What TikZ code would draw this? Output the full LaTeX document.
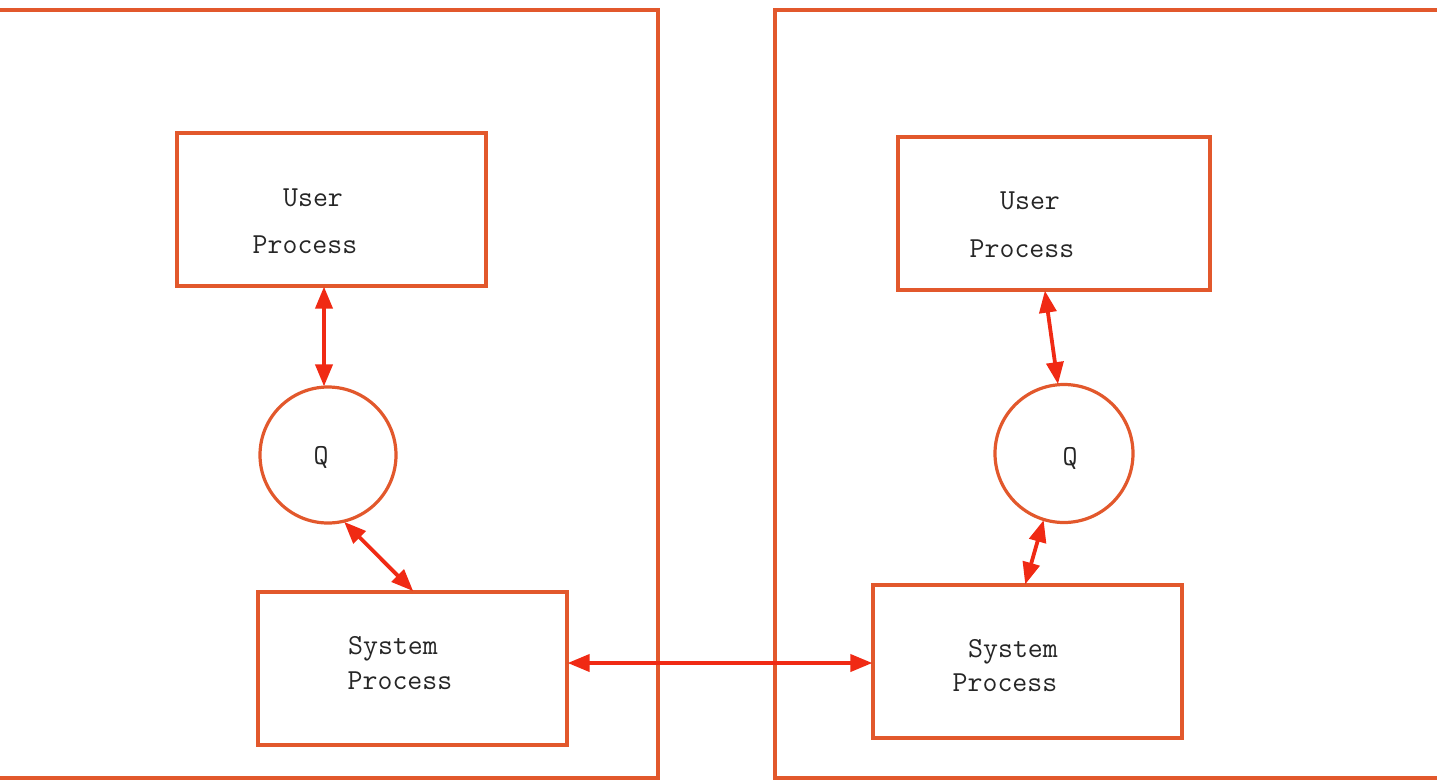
\documentclass[tikz,border=0pt]{standalone}
\usetikzlibrary{arrows.meta}
\definecolor{frameorange}{HTML}{E2582C}
\definecolor{arrowred}{HTML}{F02A14}
\tikzset{
  procbox/.style={draw=frameorange, line width=1.6pt, minimum width=154pt, minimum height=76.5pt, inner sep=0pt},
  queue/.style={draw=frameorange, line width=1.6pt, circle, minimum size=68pt, inner sep=0pt},
  label/.style={font=\ttfamily\fontsize{14.5}{16}\selectfont, text=black!85, inner sep=0pt},
  frameline/.style={draw=frameorange, line width=1.8pt},
  link/.style={draw=arrowred, line width=1.9pt, {Triangle[length=11pt,width=8.5pt]}-{Triangle[length=11pt,width=8.5pt]}, shorten <=-0.5pt, shorten >=-0.5pt}
}
\begin{document}
\begin{tikzpicture}[x=0.5pt,y=-0.5pt]
\useasboundingbox (0,0) rectangle (1437,783);

% host boundaries
\draw[frameline] (0,10) -- (658,10) -- (658,778) -- (0,778);
\draw[frameline] (1437,10) -- (775,10) -- (775,778) -- (1437,778);

% left host
\node[procbox, minimum width=154.5pt] (luser) at (331.5,209.5) {};
\node[queue] (lq) at (328,455) {};
\node[procbox, minimum width=154.5pt] (lsys) at (412.5,668.5) {};
\node[label] (luserA) at (313,198) {User};
\node[label] (luserB) at (305,245) {Process};
\node[label] (lqt) at (321,457) {Q};
\node[label] (lsysA) at (393,649) {System};
\node[label] (lsysB) at (400,681) {Process};

% right host
\node[procbox, minimum width=156pt] (ruser) at (1054,213.5) {};
\node[queue, minimum size=69pt] (rq) at (1064,453.5) {};
\node[procbox, minimum width=154.5pt] (rsys) at (1027.5,661.5) {};
\node[label] (ruserA) at (1030,201) {User};
\node[label] (ruserB) at (1022,249) {Process};
\node[label] (rqt) at (1070,458) {Q};
\node[label] (rsysA) at (1013,652) {System};
\node[label] (rsysB) at (1005,683) {Process};

% attachment points of the message paths
\coordinate (luserOut) at ([xshift=-3.75pt]luser.south);
\coordinate (lqIn) at (luserOut |- lq.north);
\coordinate (ruserOut) at ([xshift=-4.5pt]ruser.south);
\coordinate (rsysIn) at ([xshift=-1pt]rsys.north);
\coordinate (lsysOut) at ([yshift=2.75pt]lsys.east);
\coordinate (rsysSide) at (rsys.west |- lsysOut);

% message paths
\draw[link] (luserOut) -- (lqIn);
\draw[link] (lq.-76) -- (lsys.north);
\draw[link] (ruserOut) -- (rq.95);
\draw[link] (rq.-107) -- (rsysIn);
\draw[link] (lsysOut) -- (rsysSide);
\end{tikzpicture}
\end{document}
